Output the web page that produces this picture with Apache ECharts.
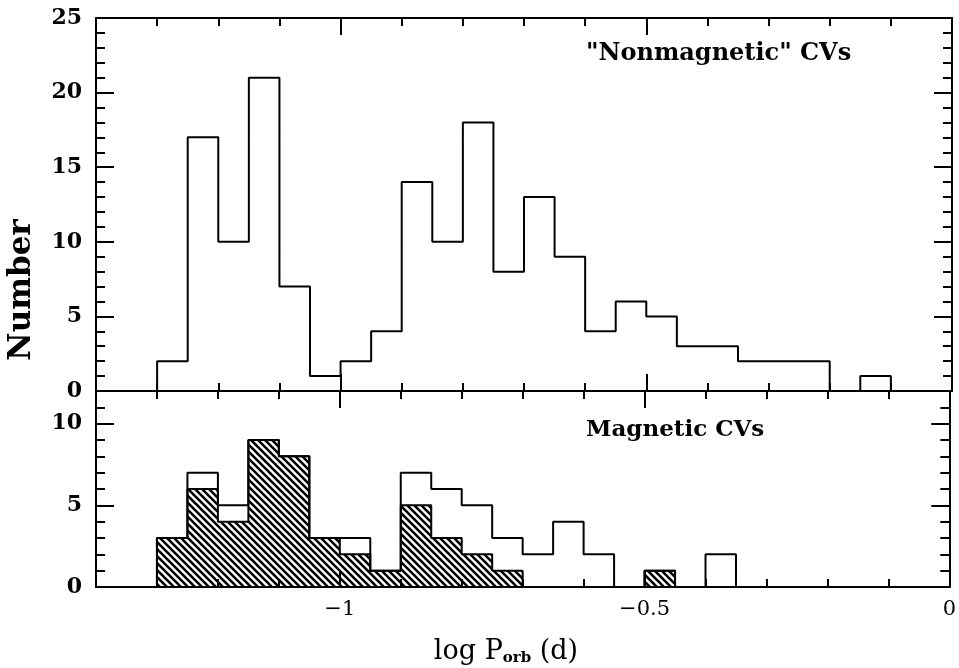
<!DOCTYPE html>
<html>
<head>
<meta charset="utf-8">
<script src="https://cdn.jsdelivr.net/npm/echarts@6/dist/echarts.min.js"></script>
<style>
  html, body { margin: 0; padding: 0; background: #fff; }
  #main { width: 959px; height: 668px; }
</style>
</head>
<body>
<div id="main"></div>
<script>
// histogram bins, 0.05 wide in log P
var binWidth = 0.05;
var binStart = -1.3;
var nonmagCounts = [2, 17, 10, 21, 7, 1, 2, 4, 14, 10, 18, 8, 13, 9, 4, 6, 5, 3, 3, 2, 2, 2, 0, 1];
var magAllCounts = [3, 7, 5, 9, 8, 3, 3, 1, 7, 6, 5, 3, 2, 4, 2, 0, 1, 0, 2];
var magHatchCounts = [3, 6, 4, 9, 8, 3, 2, 1, 5, 3, 2, 1, 0, 0, 0, 0, 1];

var xMajorTicks = [-1, -0.5];
var xTickLabels = [-1, -0.5, 0];
var yTopLabels = [0, 5, 10, 15, 20, 25];
var yTopMajor = [5, 10, 15, 20];
var yBotLabels = [0, 5, 10];
var yBotMajor = [5, 10];

function r2(v) { return Math.round(v * 1000) / 1000; }

// outline of a histogram as a polyline (edges from the bins)
function stepPoints(start, counts) {
  var pts = [[start, 0]];
  counts.forEach(function (c, i) {
    pts.push([r2(start + i * binWidth), c]);
    pts.push([r2(start + (i + 1) * binWidth), c]);
  });
  pts.push([r2(start + counts.length * binWidth), 0]);
  return pts;
}

// "\\\" hatch
var hatch = document.createElement('canvas');
hatch.width = 7; hatch.height = 7;
var hc = hatch.getContext('2d');
hc.strokeStyle = '#000';
hc.lineWidth = 2.6;
hc.beginPath();
hc.moveTo(-1, -1); hc.lineTo(8, 8);
hc.moveTo(-1, 6); hc.lineTo(1, 8);
hc.moveTo(6, -1); hc.lineTo(8, 1);
hc.stroke();

var serif = 'DejaVu Serif';
var fmtX = function (v) { return v < 0 ? '\u2212' + Math.abs(v) : String(v); };

function xAxis(grid, pos, major, labels) {
  var ax = {
    type: 'value', gridIndex: grid, position: pos, min: -1.4, max: 0,
    axisLine: { show: !major, onZero: false, lineStyle: { color: '#000', width: 2 } },
    splitLine: { show: false },
    axisTick: { inside: true, length: major ? 17 : 8, lineStyle: { color: '#000', width: 2 } },
    axisLabel: { show: false }
  };
  if (major) ax.axisTick.customValues = xMajorTicks;
  else ax.interval = 0.1;
  if (labels) {
    ax.axisLabel = {
      show: true, customValues: xTickLabels, formatter: fmtX, margin: 12,
      fontFamily: serif, fontSize: 21, color: '#000'
    };
  }
  return ax;
}

function yAxis(grid, pos, max, major, labels) {
  var ax = {
    type: 'value', gridIndex: grid, position: pos, min: 0, max: max,
    axisLine: { show: !major, onZero: false, lineStyle: { color: '#000', width: 2 } },
    splitLine: { show: false },
    axisTick: { inside: true, length: major ? 18 : 9, lineStyle: { color: '#000', width: 2 } },
    axisLabel: { show: false }
  };
  if (major) ax.axisTick.customValues = major;
  else ax.interval = 1;
  if (labels) {
    ax.axisLabel = {
      show: true, customValues: labels, margin: 14,
      fontFamily: serif, fontWeight: 'bold', fontSize: 22, color: '#000'
    };
  }
  return ax;
}

var chart = echarts.init(document.getElementById('main'));
chart.setOption({
  animation: false,
  backgroundColor: '#fff',
  grid: [
    { left: 96, top: 18, width: 856, height: 373 },
    { left: 96, top: 391, width: 856, height: 196 }
  ],
  xAxis: [
    xAxis(0, 'bottom', false), xAxis(0, 'bottom', true),
    xAxis(0, 'top', false), xAxis(0, 'top', true),
    xAxis(1, 'bottom', false), xAxis(1, 'bottom', true, true),
    xAxis(1, 'top', false), xAxis(1, 'top', true)
  ],
  yAxis: [
    yAxis(0, 'left', 25, null), yAxis(0, 'left', 25, yTopMajor, yTopLabels),
    yAxis(0, 'right', 25, null), yAxis(0, 'right', 25, yTopMajor),
    yAxis(1, 'left', 12, null), yAxis(1, 'left', 12, yBotMajor, yBotLabels),
    yAxis(1, 'right', 12, null), yAxis(1, 'right', 12, yBotMajor)
  ],
  series: [
    {
      type: 'line', xAxisIndex: 0, yAxisIndex: 0, showSymbol: false,
      data: stepPoints(binStart, nonmagCounts),
      lineStyle: { color: '#000', width: 2 }
    },
    {
      type: 'line', xAxisIndex: 4, yAxisIndex: 4, showSymbol: false,
      data: stepPoints(binStart, magHatchCounts),
      lineStyle: { color: '#000', width: 2 },
      areaStyle: { color: { image: hatch, repeat: 'repeat' }, opacity: 1 }
    },
    {
      type: 'line', xAxisIndex: 4, yAxisIndex: 4, showSymbol: false,
      data: stepPoints(binStart, magAllCounts),
      lineStyle: { color: '#000', width: 2 }
    }
  ],
  graphic: [
    {
      type: 'text', left: 586, top: 42,
      style: { text: '"Nonmagnetic" CVs', font: 'bold 24px "DejaVu Serif"', fill: '#000' }
    },
    {
      type: 'text', left: 586, top: 419,
      style: { text: 'Magnetic CVs', font: 'bold 23px "DejaVu Serif"', fill: '#000' }
    },
    {
      type: 'text', x: 22, y: 290, rotation: Math.PI / 2,
      style: {
        text: 'Number', font: 'bold 31px "DejaVu Serif"', fill: '#000',
        align: 'center', verticalAlign: 'middle'
      }
    },
    {
      type: 'text', x: 506, y: 652,
      style: {
        text: 'log P{s|orb} (d)', fill: '#000', align: 'center', verticalAlign: 'middle',
        font: '27px "DejaVu Serif"',
        rich: { s: { fontFamily: serif, fontSize: 15, fontWeight: 'bold', verticalAlign: 'bottom', padding: [12, 0, 0, 0] } }
      }
    }
  ]
});
</script>
</body>
</html>
